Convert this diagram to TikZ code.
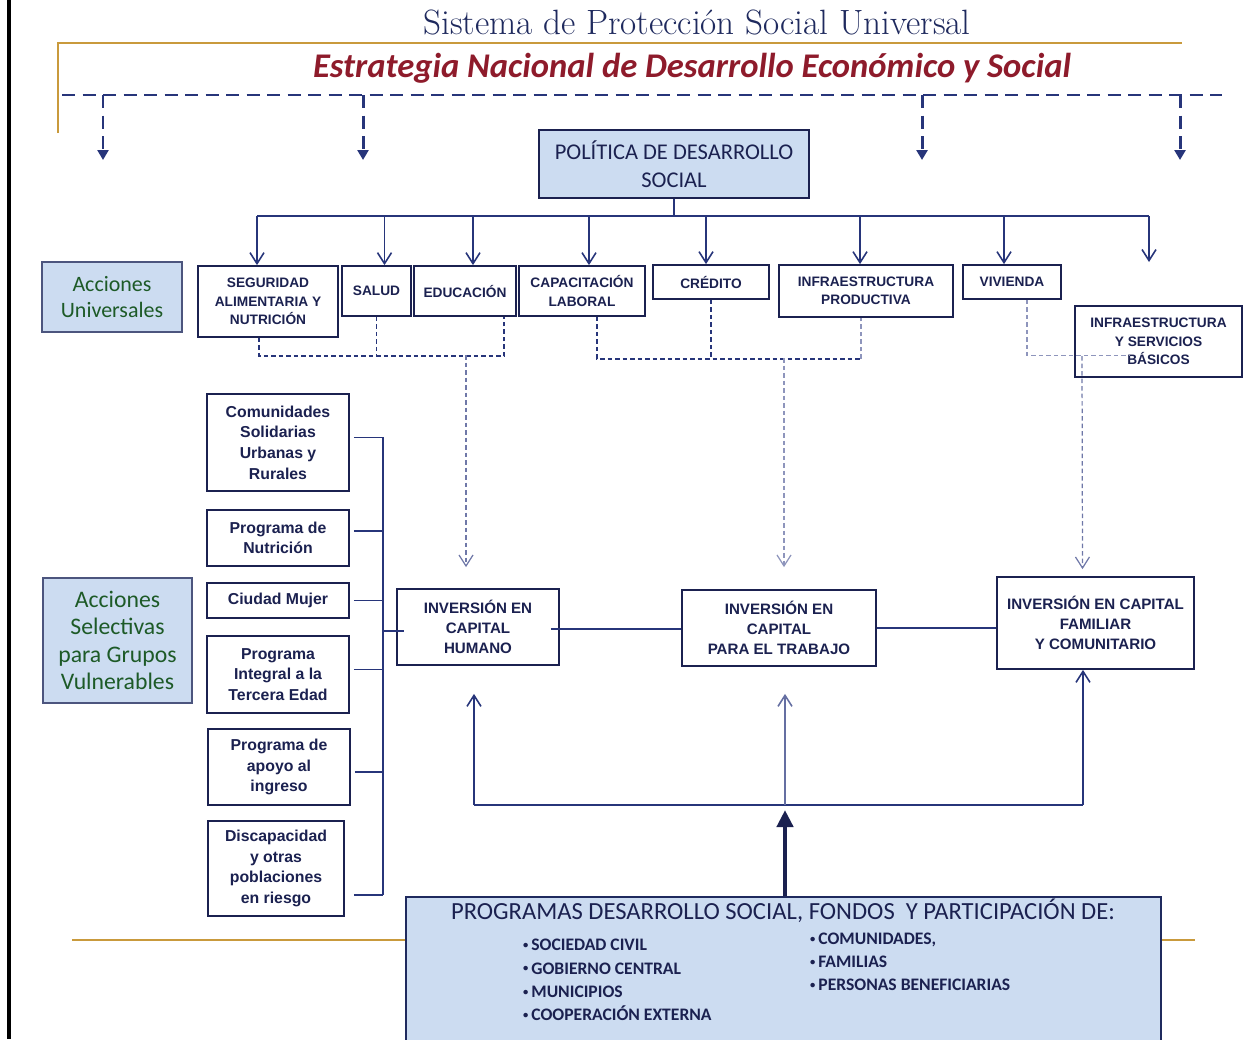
\documentclass[tikz,border=0pt]{standalone}
\usepackage{fontspec}
\usepackage{tikz}
\usetikzlibrary{arrows.meta,calc,positioning}
\newfontfamily\calibri{Carlito}
\newfontfamily\arial{Liberation Sans}
\definecolor{marino}{HTML}{1B2150}
\definecolor{linea}{HTML}{27357A}
\definecolor{celeste}{HTML}{CCDCF1}
\definecolor{verdeacc}{HTML}{1D5A27}
\definecolor{vino}{HTML}{8E1B2B}
\definecolor{dorado}{HTML}{C99A3C}
\definecolor{tinta}{HTML}{1F2A5E}
\definecolor{gris}{HTML}{8E95BC}
\newcommand{\vineta}{\raisebox{0.25ex}{\fontsize{6}{6}\selectfont\textbullet}\,}
\tikzset{every picture/.style={>={Straight Barb[length=2.2mm,width=2.8mm]}},
  caja/.style={draw=marino,line width=1pt,fill=white,align=center,inner sep=1pt,text=marino},
  fila/.style={caja,font=\arial\bfseries\fontsize{7.8}{10.5}\selectfont},
  lista/.style={caja,font=\arial\bfseries\fontsize{9}{11.7}\selectfont},
  inversion/.style={caja,font=\arial\bfseries\fontsize{8.6}{11.3}\selectfont},
  accion/.style={caja,draw=tinta!80,fill=celeste,text=verdeacc},
  conector/.style={draw=linea,line width=0.9pt},
  punteado/.style={draw=linea,line width=0.7pt,dash pattern=on 0.9mm off 0.6mm},
  guion/.style={draw=linea,line width=1.7pt,dash pattern=on 2.6mm off 1.5mm},
  oro/.style={draw=dorado,line width=1.2pt}}

\begin{document}
\begin{tikzpicture}[x=0.2mm,y=-0.2mm]
  \useasboundingbox (0,0) rectangle (1249,1039);
  \draw [line width=1.8pt] (9,0) -- (9,1039);
  \node (titulo) at (697,22) {\fontsize{20}{23}\selectfont\color{tinta}Sistema de Protección Social Universal};
  \draw [oro] (58,133) -- (58,43) -- (1182,43);
  \node (estrategia) at (692,68) {\calibri\bfseries\itshape\fontsize{19.7}{23}\selectfont\color{vino}Estrategia Nacional de Desarrollo Económico y Social};
  % eje de la estrategia
  \coordinate (eje-izq) at (62,95);
  \coordinate (eje-der) at (1222,95);
  \coordinate (baja1) at (103,160);
  \coordinate (baja2) at (363,160);
  \coordinate (baja3) at (922,160);
  \coordinate (baja4) at (1180,160);
  \draw [guion] (eje-izq) -- (eje-der);
  \draw [guion,-{Triangle[length=2mm,width=2.2mm]}] (baja1 |- eje-izq) -- (baja1);
  \draw [guion,-{Triangle[length=2mm,width=2.2mm]}] (baja2 |- eje-izq) -- (baja2);
  \draw [guion,-{Triangle[length=2mm,width=2.2mm]}] (baja3 |- eje-izq) -- (baja3);
  \draw [guion,-{Triangle[length=2mm,width=2.2mm]}] (baja4 |- eje-izq) -- (baja4);
  \node (politica) [caja,fill=celeste,font=\calibri\fontsize{12.8}{15.9}\selectfont,minimum width=54mm,minimum height=13.6mm] at (674,164) {POLÍTICA DE DESARROLLO\\SOCIAL};
  % acciones universales
  \node (universales) [accion,font=\calibri\fontsize{12.5}{15.3}\selectfont,minimum width=28mm,minimum height=14mm] at (112,297) {Acciones\\Universales};
  \node (seguridad) [fila,minimum width=28mm,minimum height=14.2mm] at (268,301.5) {SEGURIDAD\\ALIMENTARIA Y\\NUTRICIÓN};
  \node (salud) [fila,minimum width=13.8mm,minimum height=10mm] at (376.5,291) {SALUD};
  \node (educacion) [fila,minimum width=20.4mm,minimum height=10mm] at (465,291) {EDUCACIÓN};
  \node (capacitacion) [fila,minimum width=25.2mm,minimum height=10mm] at (582,291) {CAPACITACIÓN\\LABORAL};
  \node (credito) [fila,minimum width=23.2mm,minimum height=6.8mm] at (711,282) {CRÉDITO};
  \node (infraprod) [fila,minimum width=34.8mm,minimum height=10.4mm] at (866,291) {INFRAESTRUCTURA\\PRODUCTIVA};
  \node (vivienda) [fila,minimum width=19.6mm,minimum height=6.8mm] at (1012,282) {VIVIENDA};
  \node (infraserv) [fila,minimum width=33.4mm,minimum height=14.2mm] at (1158.5,341.5) {INFRAESTRUCTURA\\Y SERVICIOS\\BÁSICOS};
  \coordinate (bus) at (667,216);
  \coordinate (bus-der) at (1149,216);
  \coordinate (libre) at (1149,262);
  \draw [conector] (politica.south) -- (politica.south |- bus);
  \draw [conector] ($(bus -| seguridad.north)+(-11,0)$) -- (bus-der);
  \draw [conector,->] ($(bus -| seguridad.north)+(-11,0)$) -- ($(seguridad.north)+(-11,0)$);
  \draw [conector,->] ($(bus -| salud.north)+(8,0)$) -- ($(salud.north)+(8,0)$);
  \draw [conector,->] ($(bus -| educacion.north)+(8,0)$) -- ($(educacion.north)+(8,0)$);
  \draw [conector,->] ($(bus -| capacitacion.north)+(7,0)$) -- ($(capacitacion.north)+(7,0)$);
  \draw [conector,->] ($(bus -| credito.north)+(-5,0)$) -- ($(credito.north)+(-5,0)$);
  \draw [conector,->] ($(bus -| infraprod.north)+(-6,0)$) -- ($(infraprod.north)+(-6,0)$);
  \draw [conector,->] ($(bus -| vivienda.north)+(-8,0)$) -- ($(vivienda.north)+(-8,0)$);
  \draw [conector,->] (bus-der) -- (libre);
  % acciones selectivas
  \node (selectivas) [accion,font=\calibri\fontsize{13.5}{15.7}\selectfont,minimum width=29.8mm,minimum height=25mm] at (117.5,640.5) {Acciones\\Selectivas\\para Grupos\\Vulnerables};
  \node (comunidades) [lista,minimum width=28.4mm,minimum height=19.4mm] at (278,442.5) {Comunidades\\Solidarias\\Urbanas y\\Rurales};
  \node (nutricion) [lista,minimum width=28.4mm,minimum height=11.2mm] at (278,538) {Programa de\\Nutrición};
  \node (mujer) [lista,minimum width=28.4mm,minimum height=7mm] at (278,600.5) {Ciudad Mujer};
  \node (tercera) [lista,minimum width=28.4mm,minimum height=15.4mm] at (278,674.5) {Programa\\Integral a la\\Tercera Edad};
  \node (ingreso) [lista,minimum width=28.4mm,minimum height=15.2mm] at (279,767) {Programa de\\apoyo al\\ingreso};
  \node (discapacidad) [lista,minimum width=27.2mm,minimum height=19mm] at (276,868.5) {Discapacidad\\y otras\\poblaciones\\en riesgo};
  \coordinate (llave-top) at (383,437);
  \coordinate (llave-bot) at (383,895);
  \draw [conector,line width=1.1pt] (llave-top) -- (llave-bot);
  \draw [conector,line width=1.1pt] ($(comunidades.east)+(4,-5)$) -- ($(comunidades.east -| llave-top)+(0,-5)$);
  \draw [conector,line width=1.1pt] ($(nutricion.east)+(4,-7)$) -- ($(nutricion.east -| llave-top)+(0,-7)$);
  \draw [conector,line width=1.1pt] ($(mujer.east)+(4,0)$) -- (mujer.east -| llave-top);
  \draw [conector,line width=1.1pt] ($(tercera.east)+(4,-5)$) -- ($(tercera.east -| llave-top)+(0,-5)$);
  \draw [conector,line width=1.1pt] ($(ingreso.east)+(4,5)$) -- ($(ingreso.east -| llave-top)+(0,5)$);
  \draw [conector,line width=1.1pt] ($(discapacidad.east |- llave-bot)+(9,0)$) -- (llave-bot);
  % inversiones
  \node (humano) [inversion,minimum width=32.4mm,minimum height=15.2mm] at (478,627) {INVERSIÓN EN\\CAPITAL\\HUMANO};
  \node (trabajo) [inversion,minimum width=38.8mm,minimum height=15.2mm] at (779,628) {INVERSIÓN EN\\CAPITAL\\PARA EL TRABAJO};
  \node (familiar) [inversion,minimum width=39.4mm,minimum height=18.4mm] at (1095.5,623) {INVERSIÓN EN CAPITAL\\FAMILIAR\\Y COMUNITARIO};
  \draw [conector,line width=1.1pt] ($(llave-top |- humano.west)+(0,4)$) -- ($(humano.west)+(8,4)$);
  \draw [conector,line width=1.1pt] ($(humano.east)+(-9,2)$) -- ($(trabajo.west)+(0,1)$);
  \draw [conector,line width=1.1pt] (trabajo.east) -- (trabajo.east -| familiar.west);
  % punteados hacia las inversiones
  \coordinate (juntaH) at (466,355);
  \coordinate (juntaT) at (784,358);
  \coordinate (juntaF) at (1082,356);
  \draw [punteado] ($(seguridad.south)+(-9,0)$) |- ($(educacion.south)+(39,39)$) -- ($(educacion.south)+(39,0)$);
  \draw [punteado] (salud.south) -- (salud.south |- juntaH);
  \draw [punteado,->,draw=gris!70!linea] (juntaH) -- ($(humano.north)+(-12,-21)$);
  \draw [punteado] ($(capacitacion.south)+(15,0)$) |- ($(infraprod.south)+(-5,41)$);
  \draw [punteado,draw=gris] ($(infraprod.south)+(-5,41)$) -- ($(infraprod.south)+(-5,0)$);
  \draw [punteado] (credito.south) -- (credito.south |- juntaT);
  \draw [punteado,->,draw=gris] (juntaT) -- ($(trabajo.north)+(5,-22)$);
  \draw [punteado,draw=gris] ($(vivienda.south)+(15,0)$) |- ($(infraserv.west)+(55,14)$);
  \draw [punteado,->,draw=gris!70!linea] (juntaF) -- ($(familiar.north)+(-13,-7)$);
  % programas
  \draw [oro] (72,940) -- (1195,940);
  \node (programas) [caja,fill=celeste,draw=tinta,minimum width=151mm,minimum height=29.6mm] at (783.5,971) {};
  \node (programas-tit) at (783,911) {\calibri\fontsize{14}{16}\selectfont\color{marino}PROGRAMAS DESARROLLO SOCIAL, FONDOS\ \ Y PARTICIPACIÓN DE:};
  \node (lista-izq) [anchor=west,align=left,font=\calibri\bfseries\fontsize{10}{13.2}\selectfont,text=marino] at (517,980) {\vineta SOCIEDAD CIVIL\\\vineta GOBIERNO CENTRAL\\\vineta MUNICIPIOS\\\vineta COOPERACIÓN EXTERNA};
  \node (lista-der) [anchor=west,align=left,font=\calibri\bfseries\fontsize{10}{13.2}\selectfont,text=marino] at (804,962) {\vineta COMUNIDADES,\\\vineta FAMILIAS\\\vineta PERSONAS BENEFICIARIAS};
  \coordinate (base-izq) at (474,805);
  \coordinate (apoyo) at (785,805);
  \coordinate (base-der) at (1083,805);
  \draw [conector] (base-izq) -- (base-der);
  \draw [conector,->] (base-izq) -- ($(humano.south)+(-4,28)$);
  \draw [conector,->,draw=gris!60!linea] (apoyo) -- ($(trabajo.south)+(6,27)$);
  \draw [conector,->] (base-der) -- (familiar.south -| base-der);
  \draw [draw=marino,line width=2.8pt,-{Triangle[length=3.4mm,width=3.2mm]}] (programas.north -| apoyo) -- ($(apoyo)+(0,5)$);
\end{tikzpicture}
\end{document}
